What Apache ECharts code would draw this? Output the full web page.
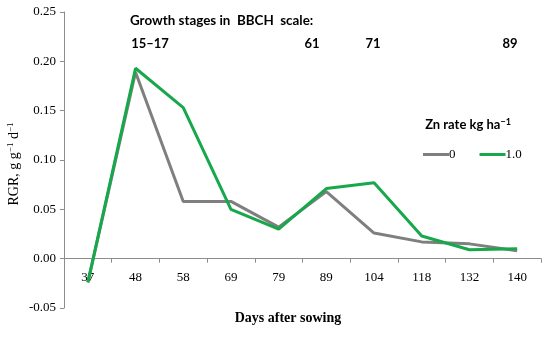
<!DOCTYPE html>
<html><head><meta charset="utf-8">
<script src="https://cdn.jsdelivr.net/npm/echarts@6/dist/echarts.min.js"></script>
<style>html,body{margin:0;padding:0;background:#fff}#c{width:550px;height:337px}</style>
</head><body><div id="c"></div>
<script>
var categories = ['37','48','58','69','79','89','104','118','132','140'];
var zn0 = [-0.024, 0.189, 0.058, 0.058, 0.032, 0.068, 0.026, 0.017, 0.015, 0.008];
var zn1 = [-0.024, 0.193, 0.153, 0.050, 0.030, 0.071, 0.077, 0.023, 0.009, 0.010];
var seriesNames = ['0', '1.0'];
var yTicks = [-0.05, 0.00, 0.05, 0.10, 0.15, 0.20, 0.25];
var stageLabels = ['15\u201317', '61', '71', '89'];

var chart = echarts.init(document.getElementById('c'));
var serif = '"Liberation Serif","DejaVu Serif",serif';
var sans = 'Lato,"Open Sans",sans-serif';
var gridTop = 12, gridBottom = 29, gridH = 337 - gridTop - gridBottom;
var zeroOffset = -gridH * (0 - yTicks[0]) / (yTicks[yTicks.length - 1] - yTicks[0]);
var stageX = [150, 312, 373, 510];
var option = {
  animation: false,
  grid: {left: 64, right: 9, top: gridTop, bottom: gridBottom, containLabel: false},
  legend: {
    data: seriesNames, left: 418, top: 143, icon: 'rect', itemWidth: 26, itemHeight: 3,
    itemGap: 24, textStyle: {fontFamily: serif, fontSize: 13, color: '#000', padding: [0,0,0,-5]}
  },
  xAxis: {
    type: 'category', data: categories, boundaryGap: true, offset: zeroOffset,
    axisLine: {onZero: false, lineStyle: {color: '#8c8c8c', width: 1}},
    axisTick: {show: true, length: 4, lineStyle: {color: '#8c8c8c'}},
    axisLabel: {margin: 12, fontFamily: serif, fontSize: 13, color: '#000'}
  },
  yAxis: {
    type: 'value', min: yTicks[0], max: yTicks[yTicks.length - 1], interval: 0.05,
    axisLine: {show: true, lineStyle: {color: '#8c8c8c', width: 1}},
    axisTick: {show: true, length: 4, lineStyle: {color: '#8c8c8c'}},
    splitLine: {show: false},
    axisLabel: {margin: 8, fontFamily: serif, fontSize: 13, color: '#000',
      formatter: function (v) { return v.toFixed(2); }}
  },
  series: [
    {name: seriesNames[0], type: 'line', data: zn0, showSymbol: false, symbol: 'none',
      lineStyle: {color: '#7f7f7f', width: 3}, itemStyle: {color: '#7f7f7f'}, z: 2},
    {name: seriesNames[1], type: 'line', data: zn1, showSymbol: false, symbol: 'none',
      lineStyle: {color: '#16a84a', width: 3}, itemStyle: {color: '#16a84a'}, z: 3}
  ]
};
chart.setOption(option);

var g = [];
g.push({type: 'text', left: 130, top: 14, style: {text: 'Growth stages in  BBCH  scale:',
  font: 'bold 13.4px ' + sans, fill: '#000'}});
stageLabels.forEach(function (s, i) {
  g.push({type: 'text', x: stageX[i], y: 44, style: {text: s, font: 'bold 13px ' + sans, fill: '#000',
    align: 'center', verticalAlign: 'middle'}});
});
g.push({type: 'text', x: 468, y: 125, style: {text: '{a|Zn rate kg ha}{s|\u22121}',
  align: 'center', verticalAlign: 'middle',
  rich: {a: {font: 'bold 13px ' + sans, fill: '#000'}, s: {font: 'bold 9px ' + sans, fill: '#000', padding: [0,0,6,0]}}}});
g.push({type: 'text', x: 14, y: 164, rotation: Math.PI / 2, style: {
  text: '{a|RGR, g g}{s|\u22121}{a| d}{s|\u22121}', align: 'center', verticalAlign: 'middle',
  rich: {a: {font: '14px ' + serif, fill: '#000'}, s: {font: '9px ' + serif, fill: '#000', padding: [0,0,7,0]}}}});
g.push({type: 'text', x: 288, y: 318, style: {text: 'Days after sowing', font: 'bold 14px ' + serif,
  fill: '#000', align: 'center', verticalAlign: 'middle'}});
chart.setOption({graphic: g});
</script>
</body></html>
